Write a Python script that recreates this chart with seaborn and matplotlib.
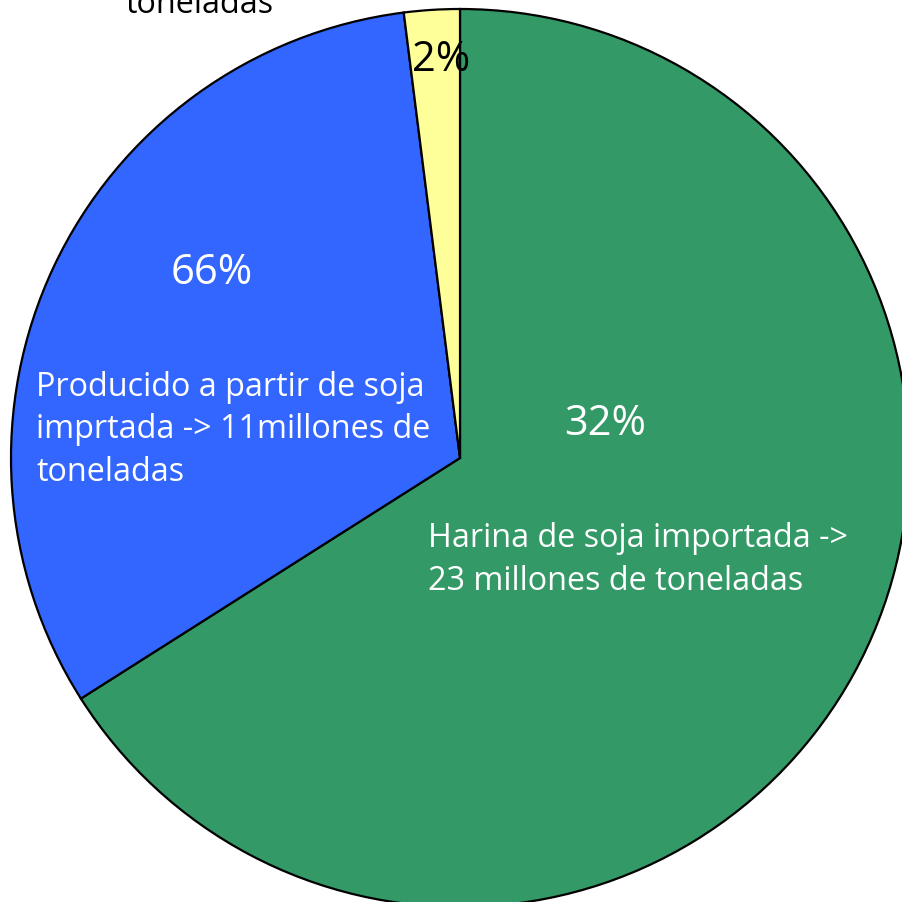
import matplotlib
matplotlib.use("Agg")
import matplotlib.pyplot as plt
import seaborn as sns

sns.set_theme(style="white")
plt.rcParams['font.family'] = ['Open Sans', 'DejaVu Sans']

# Data (slice order clockwise from 12 o'clock)
categories = ["Harina de soja importada", "Producido a partir de soja importada", "Otro"]
shares = [66, 32, 2]
colors = ["#339966", "#3366FF", "#FFFF99"]
pct_labels = ["32%", "66%", "2%"]
desc_labels = [
    "Harina de soja importada ->\n23 millones de toneladas",
    "Producido a partir de soja\nimprtada -> 11millones de\ntoneladas",
    "toneladas",
]

W, H = 902, 903
fig = plt.figure(figsize=(W / 100, H / 100), dpi=100)
ax = fig.add_axes([0, 0, 1, 1])

cx, cy, r = 460, H - 459, 449
ax.pie(shares, colors=colors, startangle=90, counterclock=False,
       center=(cx, cy), radius=r,
       wedgeprops=dict(edgecolor="black", linewidth=1.6))
ax.set_xlim(0, W)
ax.set_ylim(0, H)
ax.set_aspect("equal")
ax.axis("off")

def T(x, y, s, **kw):
    ax.text(x, H - y, s, **kw)

# percentage labels
T(605, 424, pct_labels[0], color="white", fontsize=30, ha="center", va="center")
T(212, 273, pct_labels[1], color="white", fontsize=30, ha="center", va="center")
T(441, 60, pct_labels[2], color="black", fontsize=30, ha="center", va="center")

# description labels
T(428, 560, desc_labels[0], color="white", fontsize=23.3, ha="left", va="center",
  linespacing=1.39)
T(36, 430, desc_labels[1], color="white", fontsize=23.3, ha="left", va="center",
  linespacing=1.39)
T(200, 4, desc_labels[2], color="black", fontsize=23.3, ha="center", va="center")

fig.savefig("out.png", dpi=100)
